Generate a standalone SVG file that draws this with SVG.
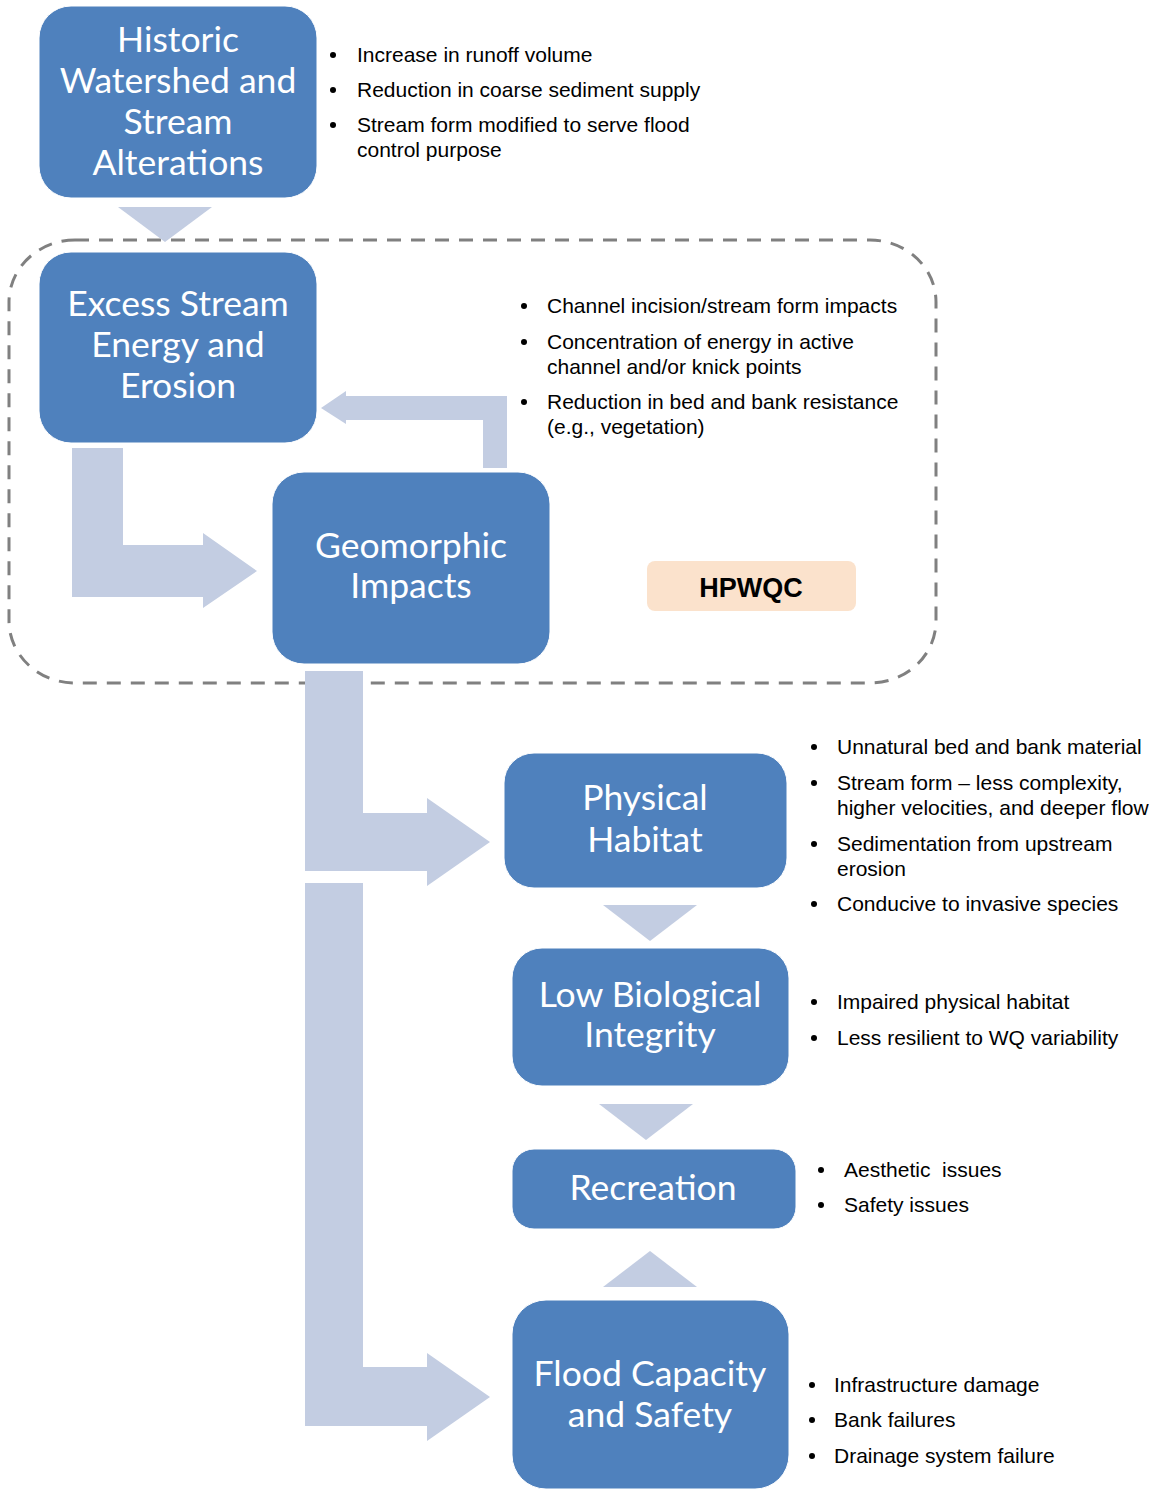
<svg xmlns="http://www.w3.org/2000/svg" width="1154" height="1489" viewBox="0 0 1154 1489">
  <style>
    .box { fill: #4F81BD; stroke: #FFFFFF; stroke-width: 1; }
    .lbl { font-family: Lato, "Open Sans", sans-serif; font-size: 35.5px; fill: #FFFFFF; text-anchor: middle; }
    .arw { fill: #C3CDE2; }
    .note { font-family: "Liberation Sans", Arial, sans-serif; font-size: 21px; fill: #000000; }
    .dot { fill: #000000; }
    .frame { fill: none; stroke: #808080; stroke-width: 3; stroke-dasharray: 14 10; }
    .tag { fill: #FBE2CC; }
    .tagtxt { font-family: "Liberation Sans", Arial, sans-serif; font-size: 27px; font-weight: bold; fill: #000000; text-anchor: middle; }
  </style>

  <!-- dashed grouping frame -->
  <rect class="frame" x="9" y="240" width="927" height="443" rx="66" ry="62"/>

  <!-- connectors -->
  <g id="connectors">
    <!-- Historic -> Excess -->
    <polygon class="arw" points="118,207 212,207 165,242"/>
    <!-- Excess -> Geomorphic -->
    <polygon class="arw" points="72,448 123,448 123,545 203,545 203,533 257,571 203,608 203,597 72,597"/>
    <!-- Geomorphic -> Excess (feedback) -->
    <polygon class="arw" points="483,468 507,468 507,396 346,396 346,391 321,408 346,424 346,420 483,420"/>
    <!-- Geomorphic -> Physical Habitat -->
    <polygon class="arw" points="305,671 363,671 363,813 427,813 427,798 490,842 427,886 427,871 305,871"/>
    <!-- Geomorphic -> Flood Capacity -->
    <polygon class="arw" points="305,883 363,883 363,1367 427,1367 427,1353 490,1397 427,1441 427,1426 305,1426"/>
    <!-- Physical Habitat -> Low Biological Integrity -->
    <polygon class="arw" points="603,905 697,905 650,941"/>
    <!-- Low Biological Integrity -> Recreation -->
    <polygon class="arw" points="599,1104 693,1104 646,1140"/>
    <!-- Flood Capacity -> Recreation -->
    <polygon class="arw" points="603,1287 697,1287 650,1251"/>
  </g>

  <!-- nodes -->
  <g id="historic">
    <rect class="box" x="39" y="6" width="278" height="192" rx="32"/>
    <text class="lbl" x="178" y="52">Historic</text>
    <text class="lbl" x="178" y="93">Watershed and</text>
    <text class="lbl" x="178" y="134">Stream</text>
    <text class="lbl" x="178" y="175">Alterations</text>
  </g>
  <g id="excess">
    <rect class="box" x="39" y="252" width="278" height="191" rx="32"/>
    <text class="lbl" x="178" y="316">Excess Stream</text>
    <text class="lbl" x="178" y="357">Energy and</text>
    <text class="lbl" x="178" y="398">Erosion</text>
  </g>
  <g id="geomorphic">
    <rect class="box" x="272" y="472" width="278" height="192" rx="32"/>
    <text class="lbl" x="411" y="558">Geomorphic</text>
    <text class="lbl" x="411" y="598">Impacts</text>
  </g>
  <g id="hpwqc">
    <rect class="tag" x="647" y="561" width="209" height="50" rx="8"/>
    <text class="tagtxt" x="751" y="597">HPWQC</text>
  </g>
  <g id="physical-habitat">
    <rect class="box" x="504" y="753" width="283" height="135" rx="30"/>
    <text class="lbl" x="645" y="810">Physical</text>
    <text class="lbl" x="645" y="852">Habitat</text>
  </g>
  <g id="low-biological-integrity">
    <rect class="box" x="512" y="948" width="277" height="138" rx="30"/>
    <text class="lbl" x="650" y="1007">Low Biological</text>
    <text class="lbl" x="650" y="1047">Integrity</text>
  </g>
  <g id="recreation">
    <rect class="box" x="512" y="1149" width="284" height="80" rx="22"/>
    <text class="lbl" x="653" y="1200">Recreation</text>
  </g>
  <g id="flood-capacity">
    <rect class="box" x="512" y="1300" width="277" height="189" rx="34"/>
    <text class="lbl" x="650" y="1386">Flood Capacity</text>
    <text class="lbl" x="650" y="1427">and Safety</text>
  </g>

  <!-- bullet notes -->
  <g id="notes-historic">
    <circle class="dot" cx="333" cy="55" r="3"/>
    <text class="note" x="357" y="62">Increase in runoff volume</text>
    <circle class="dot" cx="333" cy="90" r="3"/>
    <text class="note" x="357" y="97">Reduction in coarse sediment supply</text>
    <circle class="dot" cx="333" cy="125" r="3"/>
    <text class="note" x="357" y="132">Stream form modified to serve flood</text>
    <text class="note" x="357" y="157">control purpose</text>
  </g>
  <g id="notes-excess">
    <circle class="dot" cx="524" cy="306" r="3"/>
    <text class="note" x="547" y="313">Channel incision/stream form impacts</text>
    <circle class="dot" cx="524" cy="342" r="3"/>
    <text class="note" x="547" y="349">Concentration of energy in active</text>
    <text class="note" x="547" y="374">channel and/or knick points</text>
    <circle class="dot" cx="524" cy="402" r="3"/>
    <text class="note" x="547" y="409">Reduction in bed and bank resistance</text>
    <text class="note" x="547" y="434">(e.g., vegetation)</text>
  </g>
  <g id="notes-physical">
    <circle class="dot" cx="814" cy="747" r="3"/>
    <text class="note" x="837" y="754">Unnatural bed and bank material</text>
    <circle class="dot" cx="814" cy="783" r="3"/>
    <text class="note" x="837" y="790">Stream form – less complexity,</text>
    <text class="note" x="837" y="815">higher velocities, and deeper flow</text>
    <circle class="dot" cx="814" cy="844" r="3"/>
    <text class="note" x="837" y="851">Sedimentation from upstream</text>
    <text class="note" x="837" y="876">erosion</text>
    <circle class="dot" cx="814" cy="904" r="3"/>
    <text class="note" x="837" y="911">Conducive to invasive species</text>
  </g>
  <g id="notes-biological">
    <circle class="dot" cx="814" cy="1002" r="3"/>
    <text class="note" x="837" y="1009">Impaired physical habitat</text>
    <circle class="dot" cx="814" cy="1038" r="3"/>
    <text class="note" x="837" y="1045">Less resilient to WQ variability</text>
  </g>
  <g id="notes-recreation">
    <circle class="dot" cx="821" cy="1170" r="3"/>
    <text class="note" x="844" y="1177" xml:space="preserve">Aesthetic  issues</text>
    <circle class="dot" cx="821" cy="1205" r="3"/>
    <text class="note" x="844" y="1212">Safety issues</text>
  </g>
  <g id="notes-flood">
    <circle class="dot" cx="812" cy="1385" r="3"/>
    <text class="note" x="834" y="1392">Infrastructure damage</text>
    <circle class="dot" cx="812" cy="1420" r="3"/>
    <text class="note" x="834" y="1427">Bank failures</text>
    <circle class="dot" cx="812" cy="1456" r="3"/>
    <text class="note" x="834" y="1463">Drainage system failure</text>
  </g>
</svg>
